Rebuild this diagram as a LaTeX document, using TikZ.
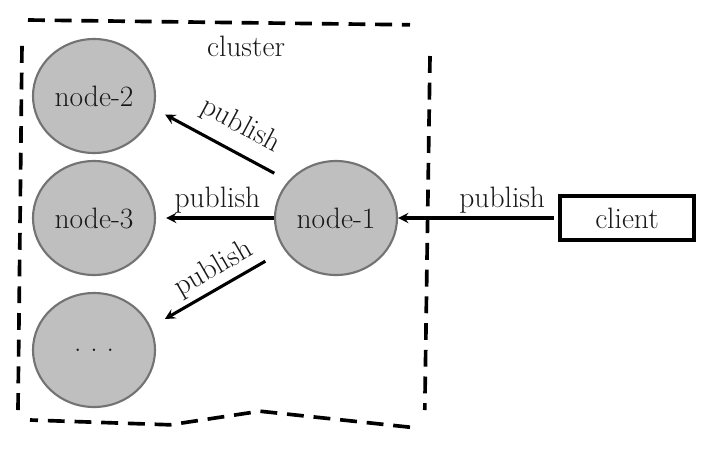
\documentclass[tikz,border=0pt]{standalone}
\usepackage{tikz}
\usetikzlibrary{shapes, arrows, positioning}
\tikzstyle{server} = [ellipse, minimum width=3.05cm, minimum height=2.85cm, inner sep=0pt, text centered, draw=black!55, line width=1.5pt, fill=gray!50, text=black!90, font=\fontsize{21}{24}\selectfont]
\tikzstyle{caller} = [rectangle, minimum width=3.35cm, minimum height=1.1cm, text centered, draw=black, line width=2.4pt, text=black!90, font=\fontsize{21}{24}\selectfont]
\tikzstyle{arrow} = [line width=2.2pt,->,>=stealth]
\tikzstyle{lbl} = [text=black!90, font=\fontsize{21}{24}\selectfont, inner sep=2pt]
\tikzstyle{fence} = [line width=2.6pt, dash pattern=on 12pt off 7pt]

\begin{document}
\begin{tikzpicture}

\useasboundingbox (0,0) rectangle (17.925,-11.25);

% nodes
\node (node1) [server] at (8.4,-5.45) {node-1};
\node (node3) [server, left of=node1, xshift=-5.05cm] {node-3};
\node (node2) [server, above of=node3, yshift=2.05cm] {node-2};
\node (more) [server, below of=node3, yshift=-2.3cm] {.\ .\ .};
\node (client) [caller, right of=node1, xshift=6.275cm] {client};
\node (title) [lbl] at (6.15,-1.15) {cluster};

% arrows
\draw [arrow, shorten <=0.12cm] (client) -- node[lbl, above, pos=0.35] {publish} (node1);
\draw [arrow, shorten >=0.25cm] (node1) -- node[lbl, above, pos=0.48] {publish} (node3);
\draw [arrow, shorten <=0.4cm, shorten >=0.3cm] (node1.142) -- node[lbl, sloped, above=6pt, pos=0.45] {publish} (node2.348);
\draw [arrow, shorten <=0.55cm, shorten >=0.4cm] (node1.212) -- node[lbl, sloped, above=1pt, pos=0.46] {publish} (more.22);

% cluster border
\draw [fence] (0.7,-0.5) -- (10.25,-0.62);
\draw [fence] (10.75,-1.4) -- (10.62,-10.25);
\draw [fence] (10.25,-10.68) -- (6.5,-10.28) -- (4.25,-10.62) -- (0.75,-10.5);
\draw [fence] (0.45,-10.25) -- (0.55,-1.1);

\end{tikzpicture}
\end{document}
